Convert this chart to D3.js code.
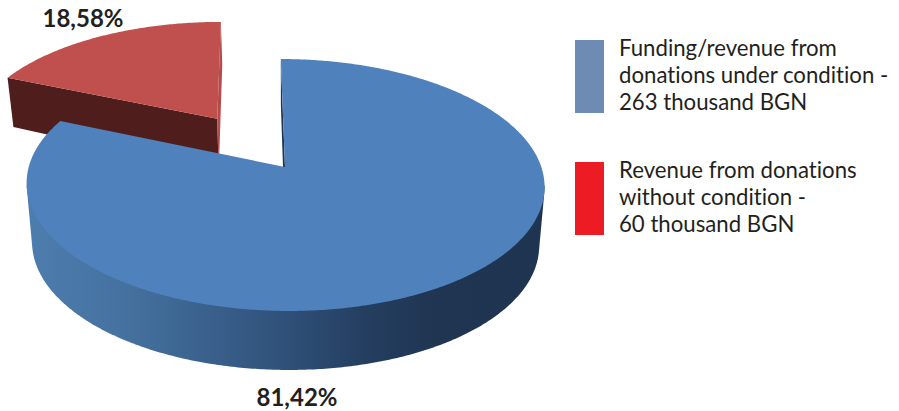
<!DOCTYPE html>
<html>
<head>
<meta charset="utf-8">
<script src="https://cdn.jsdelivr.net/npm/d3@7"></script>
<style>
html,body{margin:0;padding:0;background:#fff}
svg{display:block}
text{font-family:Lato,"Open Sans",sans-serif;fill:#231f20;font-variant-ligatures:none}
</style>
</head>
<body>
<svg id="chart" width="899" height="411"></svg>
<script>
// Donation revenue, thousand BGN
const categories = ["conditional", "unconditional"];
const values = [263, 60];
const percentLabels = ["81,42%", "18,58%"];
const legendLines = [
  ["Funding/revenue from", "donations under condition -", "263 thousand BGN"],
  ["Revenue from donations", "without condition -", "60 thousand BGN"]
];

const topColors = ["#4f81bd", "#c0504d"];
const legendColors = ["#6e8cb3", "#ed1c24"];

const svg = d3.select("#chart");
const defs = svg.append("defs");

// Perspective projection of the unit disc onto the screen
const cx = 284, cy = 167, rx = 256.3, ry = 123.4, persp = 1 / 7;
function project([u, v]) {
  const w = 1 - persp * v;
  return [cx + 1 + 4.2 * v + rx * u / w, cy + ry * v / w];
}
// Lower rim of the extruded disc for a projected point
function drop([x, y]) {
  const depth = y > cy ? 59 : 59 - (cy - y) / 9;
  return [286 + (x - 286) * 0.979, y + depth];
}

const explode = 0.495;
const arcs = d3.pie().sort(null).startAngle(0).endAngle(2 * Math.PI)(values);
const line = d3.line();
const polar = (a, r, o) => [o[0] + r * Math.sin(a), o[1] - r * Math.cos(a)];

function slice(d, offset) {
  const n = Math.ceil((d.endAngle - d.startAngle) / 0.01);
  const t = d3.scaleLinear().domain([0, n]).range([d.startAngle, d.endAngle]);
  const rim = d3.range(n + 1).map(i => project(polar(t(i), 1, offset)));
  return { apex: project(offset), rim };
}
const closed = pts => line(pts) + "Z";

const [blueArc, redArc] = arcs;
const mid = (redArc.startAngle + redArc.endAngle) / 2;
const red = slice(redArc, polar(mid, explode, [0, 0]));
const blue = slice(blueArc, [0, 0]);

// Shaded wall of the large slice
const grad = defs.append("linearGradient").attr("id", "wallShade")
  .attr("gradientUnits", "userSpaceOnUse")
  .attr("x1", 30).attr("x2", 540).attr("y1", 0).attr("y2", 0);
[[0, "#4d7dae"], [0.2, "#44709e"], [0.45, "#335680"], [0.65, "#253f61"], [0.8, "#1f3551"], [1, "#1f3450"]]
  .forEach(([o, c]) => grad.append("stop").attr("offset", o).attr("stop-color", c));

// Exploded slice: front cut, thin far cut, top face
const redFirst = red.rim[0], redLast = red.rim[red.rim.length - 1];
svg.append("path")
  .attr("d", closed([redFirst, red.apex, drop(red.apex), drop(redFirst)]))
  .attr("fill", "#4f1e1c");
svg.append("path")
  .attr("d", closed([redLast, red.apex, drop(red.apex), drop(redLast)]))
  .attr("fill", "#b54c49");
svg.append("path")
  .attr("d", closed([red.apex, ...red.rim]))
  .attr("fill", topColors[1]);

// Main slice: outer wall swept from the near half of the rim, then the
// cut edge at twelve o'clock and the top face
const nearRim = blue.rim.filter(p => p[1] >= 185);
svg.append("path")
  .attr("d", closed(d3.polygonHull([...nearRim, ...nearRim.map(drop)])))
  .attr("fill", "url(#wallShade)");
const blueFirst = blue.rim[0];
svg.append("path")
  .attr("d", closed([blueFirst, blue.apex, drop(blue.apex), drop(blueFirst)]))
  .attr("fill", "#1f3551");
svg.append("path")
  .attr("d", closed([blue.apex, ...blue.rim]))
  .attr("fill", topColors[0]);

// Percentage labels
const labelPos = [[297, 406], [83, 27]];
svg.selectAll("text.pct").data(percentLabels).join("text")
  .attr("class", "pct")
  .attr("x", (d, i) => labelPos[i][0])
  .attr("y", (d, i) => labelPos[i][1])
  .attr("text-anchor", "middle")
  .attr("font-size", 24)
  .attr("font-weight", 700)
  .text(d => d);

// Legend
const legendY = d3.scalePoint().domain(categories).range([40, 162]);
const legend = svg.selectAll("g.legend").data(categories).join("g")
  .attr("class", "legend")
  .attr("transform", d => `translate(575,${legendY(d)})`);
legend.append("rect")
  .attr("width", 29).attr("height", 73)
  .attr("fill", (d, i) => legendColors[i]);
legend.each(function (d, i) {
  d3.select(this).selectAll("text").data(legendLines[i]).join("text")
    .attr("x", 44)
    .attr("y", (l, j) => 15.5 + j * 27.3)
    .attr("font-size", 22.2)
    .text(l => l);
});
</script>
</body>
</html>
